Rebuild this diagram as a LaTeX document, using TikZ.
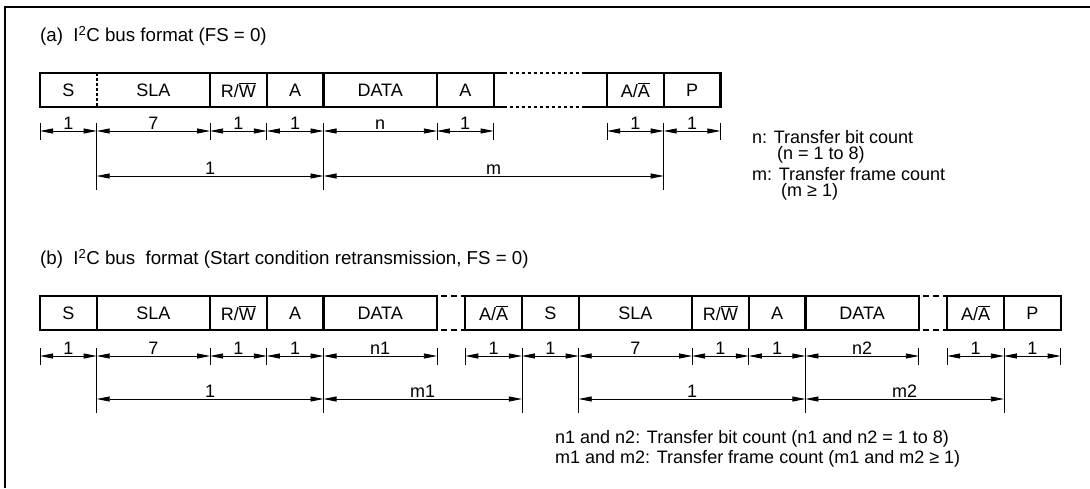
\documentclass[tikz,border=0pt]{standalone}
\usepackage{fontspec}
\setmainfont{Liberation Sans}
\usetikzlibrary{arrows.meta, positioning, calc}

\begin{document}
\begin{tikzpicture}[x=1pt, y=-1pt, font=\fontsize{18}{20}\selectfont,
    cell/.style={draw, line width=2.2pt, minimum width=56.7pt, minimum height=34pt, inner sep=0pt, outer sep=0pt},
    plain/.style={cell, draw=none},
    wide/.style={minimum width=113.4pt},
    dim/.style={{Triangle[length=13pt, width=5pt]}-{Triangle[length=13pt, width=5pt]}, line width=0.8pt},
    tick/.style={line width=0.8pt},
    gapline/.style={line width=1.4pt, dash pattern=on 3pt off 3pt},
    gaplineb/.style={line width=1.4pt, dash pattern=on 6pt off 4pt, dash phase=6pt},
    lab/.style={above, inner sep=1.5pt},
    title/.style={anchor=west, inner sep=0pt, font=\fontsize{18.7}{20}\selectfont},
    note/.style={anchor=west, inner sep=0pt}]
\useasboundingbox (0,0) rectangle (1090,488);
\draw[line width=2.5pt] (5,488) -- (5,7) -- (1090,7);

% (a) I2C bus format
\node[title] (atitle) at (40,36) {(a)\ \ I\textsuperscript{2}C bus format (FS = 0)};
\node[plain, anchor=north west] (aS) at (40,73) {S};
\node[plain, wide, right=0pt of aS] (aSLA) {SLA};
\node[cell, right=0pt of aSLA] (aRW) {R/$\overline{\mbox{W}}$};
\node[cell, right=0pt of aRW] (aA1) {A};
\node[cell, wide, right=0pt of aA1] (aDATA) {DATA};
\node[cell, right=0pt of aDATA] (aA2) {A};
\node[cell, right=113.4pt of aA2] (aAA) {A/$\overline{\mbox{A}}$};
\node[cell, right=0pt of aAA] (aP) {P};
\draw[line width=2.2pt] (aSLA.north east) -- (aS.north west) -- (aS.south west) -- (aSLA.south east);
\draw[line width=2.2pt, dash pattern=on 2.5pt off 2.5pt] (aS.north east) -- (aS.south east);
\foreach \l/\r in {aA2.north east/aAA.north west, aA2.south east/aAA.south west} {
  \draw[line width=2.2pt] (\l) -- ++(10,0);
  \draw[gapline] ($(\l)+(10,0)$) -- ($(\r)+(-22,0)$);
  \draw[line width=2.2pt] ($(\r)+(-22,0)$) -- (\r);
}

\coordinate (ady) at (0,131);
\coordinate (ady2) at (0,176);
\foreach \c/\t in {aS/1, aSLA/7, aRW/1, aA1/1, aDATA/n, aA2/1, aAA/1, aP/1}
  \draw[dim] (\c.west |- ady) -- node[lab] (\c-n) {\t} (\c.east |- ady);
\foreach \c in {aS.west, aRW.west, aA1.west, aA2.west, aA2.east, aAA.west, aP.east}
  \draw[tick] (\c |- ady) ++(0,-8) -- ++(0,17);
\foreach \c in {aSLA.west, aDATA.west, aP.west}
  \draw[tick] (\c |- ady) ++(0,-8) -- ++(0,67);
\draw[dim] (aSLA.west |- ady2) -- node[lab] (a1-n) {1} (aA1.east |- ady2);
\draw[dim] (aDATA.west |- ady2) -- node[lab] (am-n) {m} (aP.west |- ady2);

\node[note] (anote1) at (752,137) {n: Transfer bit count};
\node[note] (anote2) at (777,155) {(n = 1 to 8)};
\node[note] (anote3) at (752,174) {m: Transfer frame count};
\node[note] (anote4) at (781,192) {(m ≥ 1)};

% (b) start condition retransmission
\node[title] (btitle) at (40,259) {(b)\ \ I\textsuperscript{2}C bus\ \ format (Start condition retransmission, FS = 0)};
\node[cell, anchor=north west] (bS) at (40,296) {S};
\node[cell, wide, right=0pt of bS] (bSLA) {SLA};
\node[cell, right=0pt of bSLA] (bRW) {R/$\overline{\mbox{W}}$};
\node[cell, right=0pt of bRW] (bA1) {A};
\node[cell, wide, right=0pt of bA1] (bDATA) {DATA};
\node[cell, right=28.35pt of bDATA] (bAA1) {A/$\overline{\mbox{A}}$};
\node[cell, right=0pt of bAA1] (bS2) {S};
\node[cell, wide, right=0pt of bS2] (bSLA2) {SLA};
\node[cell, right=0pt of bSLA2] (bRW2) {R/$\overline{\mbox{W}}$};
\node[cell, right=0pt of bRW2] (bA2) {A};
\node[cell, wide, right=0pt of bA2] (bDATA2) {DATA};
\node[cell, right=28.35pt of bDATA2] (bAA2) {A/$\overline{\mbox{A}}$};
\node[cell, right=0pt of bAA2] (bP) {P};
\foreach \l/\r in {bDATA.north east/bAA1.north west, bDATA.south east/bAA1.south west,
                   bDATA2.north east/bAA2.north west, bDATA2.south east/bAA2.south west}
  \draw[gaplineb] (\l) -- (\r);

\coordinate (bdy) at (0,356);
\coordinate (bdy2) at (0,399);
\foreach \c/\t in {bS/1, bSLA/7, bRW/1, bA1/1, bDATA/n1, bAA1/1, bS2/1, bSLA2/7, bRW2/1, bA2/1, bDATA2/n2, bAA2/1, bP/1}
  \draw[dim] (\c.west |- bdy) -- node[lab] (\c-n) {\t} (\c.east |- bdy);
\foreach \c in {bS.west, bRW.west, bA1.west, bDATA.east, bAA1.west, bRW2.west, bA2.west, bDATA2.east, bAA2.west, bP.east}
  \draw[tick] (\c |- bdy) ++(0,-8) -- ++(0,17);
\foreach \c in {bSLA.west, bDATA.west, bS2.west, bSLA2.west, bDATA2.west, bP.west}
  \draw[tick] (\c |- bdy) ++(0,-8) -- ++(0,65);
\draw[dim] (bSLA.west |- bdy2) -- node[lab] (b1-n) {1} (bA1.east |- bdy2);
\draw[dim] (bDATA.west |- bdy2) -- node[lab] (bm1-n) {m1} (bS2.west |- bdy2);
\draw[dim] (bSLA2.west |- bdy2) -- node[lab] (b2-n) {1} (bA2.east |- bdy2);
\draw[dim] (bDATA2.west |- bdy2) -- node[lab] (bm2-n) {m2} (bP.west |- bdy2);

\node[note] (bnote1) at (555,439) {n1 and n2: Transfer bit count (n1 and n2 = 1 to 8)};
\node[note] (bnote2) at (555,459) {m1 and m2: Transfer frame count (m1 and m2 ≥ 1)};
\end{tikzpicture}
\end{document}
